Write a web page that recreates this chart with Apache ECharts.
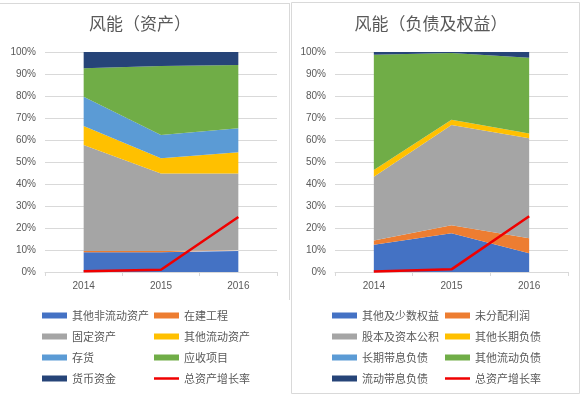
<!DOCTYPE html>
<html><head><meta charset="utf-8">
<script src="https://cdn.jsdelivr.net/npm/echarts@6/dist/echarts.min.js"></script>
<style>html,body{margin:0;padding:0;background:#fff}#c{width:581px;height:395px}</style>
</head><body><div id="c"></div>
<script>
const categories = ['2014', '2015', '2016'];
const yTicks = [0, 10, 20, 30, 40, 50, 60, 70, 80, 90, 100];
// Left: 风能（资产）
const otherNonCurrentAssets = [9.0, 9.0, 9.6];
const constructionInProgress = [0.5, 0.5, 0.4];
const fixedAssets = [48.2, 35.3, 34.8];
const otherCurrentAssets = [8.7, 6.9, 9.6];
const inventory = [13.3, 10.6, 10.9];
const receivables = [12.9, 31.3, 28.8];
const cashFunds = [7.4, 6.4, 5.9];
const assetGrowthL = [0.3, 1.0, 25.0];
// Right: 风能（负债及权益）
const otherEquity = [12.4, 17.6, 8.5];
const retainedEarnings = [1.9, 3.7, 6.8];
const capitalStock = [29.0, 45.5, 45.5];
const otherLongLiab = [3.1, 2.4, 2.2];
const longInterestLiab = [0, 0, 0];
const otherCurrentLiab = [52.4, 30.3, 34.4];
const shortInterestLiab = [1.2, 0.5, 2.6];
const assetGrowthR = [0.2, 1.2, 25.3];

const FONT = '"Noto Sans CJK SC", sans-serif';
const TXT = '#595959';
const colors = ['#4472C4', '#ED7D31', '#A5A5A5', '#FFC000', '#5B9BD5', '#70AD47', '#264478'];
const RED = '#F00000';

const leftNames = ['其他非流动资产', '在建工程', '固定资产', '其他流动资产', '存货', '应收项目', '货币资金'];
const leftData = [otherNonCurrentAssets, constructionInProgress, fixedAssets, otherCurrentAssets, inventory, receivables, cashFunds];
const rightNames = ['其他及少数权益', '未分配利润', '股本及资本公积', '其他长期负债', '长期带息负债', '其他流动负债', '流动带息负债'];
const rightData = [otherEquity, retainedEarnings, capitalStock, otherLongLiab, longInterestLiab, otherCurrentLiab, shortInterestLiab];
const growthName = '总资产增长率';

function areaSeries(names, data, idx, stack) {
  return names.map((n, i) => ({
    name: n, type: 'line', stack: stack, xAxisIndex: idx, yAxisIndex: idx,
    data: data[i], symbol: 'none', smooth: false,
    itemStyle: { color: colors[i] },
    lineStyle: { width: 0, color: colors[i] },
    areaStyle: { color: colors[i], opacity: 1 },
    emphasis: { disabled: true }, z: 2
  }));
}
function lineSeries(data, idx) {
  return { name: growthName, type: 'line', xAxisIndex: idx, yAxisIndex: idx, data: data,
    symbol: 'none', showSymbol: false, itemStyle: { color: RED }, lineStyle: { color: RED, width: 2.5 }, z: 5 };
}
function xAxis(idx) {
  return { type: 'category', gridIndex: idx, data: categories, boundaryGap: true,
    axisLine: { lineStyle: { color: '#D9D9D9' } },
    axisTick: { show: true, alignWithLabel: false, length: 4, lineStyle: { color: '#D9D9D9' } },
    axisLabel: { color: TXT, fontSize: 10, margin: 9, fontFamily: 'Liberation Sans' } };
}
function yAxis(idx) {
  return { type: 'value', gridIndex: idx, min: yTicks[0], max: yTicks[yTicks.length - 1], interval: 10,
    axisLine: { show: false }, axisTick: { show: false },
    splitLine: { lineStyle: { color: '#D9D9D9' } },
    axisLabel: { color: TXT, fontSize: 10, margin: 9, fontFamily: 'Liberation Sans', formatter: '{value}%' } };
}
function legend(names, left, top, withLine) {
  const d = names.map(n => ({ name: n, icon: 'rect' }));
  if (withLine) d.push({ name: growthName, icon: 'path://M0,0H25V2.5H0Z', itemStyle: { color: RED } });
  return { orient: 'vertical', left: left, top: top, itemWidth: 25, itemHeight: 6, itemGap: 10,
    data: d, selectedMode: false, symbolKeepAspect: true,
    textStyle: { color: TXT, fontSize: 11, fontFamily: FONT } };
}

const chart = echarts.init(document.getElementById('c'), null, { renderer: 'canvas' });
chart.setOption({
  animation: false,
  grid: [
    { left: 45, top: 52, width: 232, height: 220 },
    { left: 335, top: 52, width: 233, height: 220 }
  ],
  xAxis: [xAxis(0), xAxis(1)],
  yAxis: [yAxis(0), yAxis(1)],
  legend: [
    legend([leftNames[0], leftNames[2], leftNames[4], leftNames[6]], 37, 305, false),
    legend([leftNames[1], leftNames[3], leftNames[5]], 149, 305, true),
    legend([rightNames[0], rightNames[2], rightNames[4], rightNames[6]], 327, 305, false),
    legend([rightNames[1], rightNames[3], rightNames[5]], 440, 305, true)
  ],
  graphic: [
    { type: 'line', shape: { x1: 0, y1: 3.5, x2: 289, y2: 3.5 }, style: { stroke: '#D9D9D9', lineWidth: 1 } },
    { type: 'line', shape: { x1: 289.5, y1: 3, x2: 289.5, y2: 300 }, style: { stroke: '#D9D9D9', lineWidth: 1 } },
    { type: 'rect', shape: { x: 291.5, y: 2.5, width: 288, height: 391 }, style: { fill: 'none', stroke: '#D9D9D9', lineWidth: 1 } },
    { type: 'text', x: 140, y: 24, style: { text: '风能（资产）', textAlign: 'center', textVerticalAlign: 'middle', fontSize: 17, fill: TXT, fontFamily: FONT } },
    { type: 'text', x: 431, y: 24, style: { text: '风能（负债及权益）', textAlign: 'center', textVerticalAlign: 'middle', fontSize: 17, fill: TXT, fontFamily: FONT } }
  ],
  series: [
    ...areaSeries(leftNames, leftData, 0, 'L'),
    lineSeries(assetGrowthL, 0),
    ...areaSeries(rightNames, rightData, 1, 'R'),
    lineSeries(assetGrowthR, 1)
  ]
});
</script></body></html>
